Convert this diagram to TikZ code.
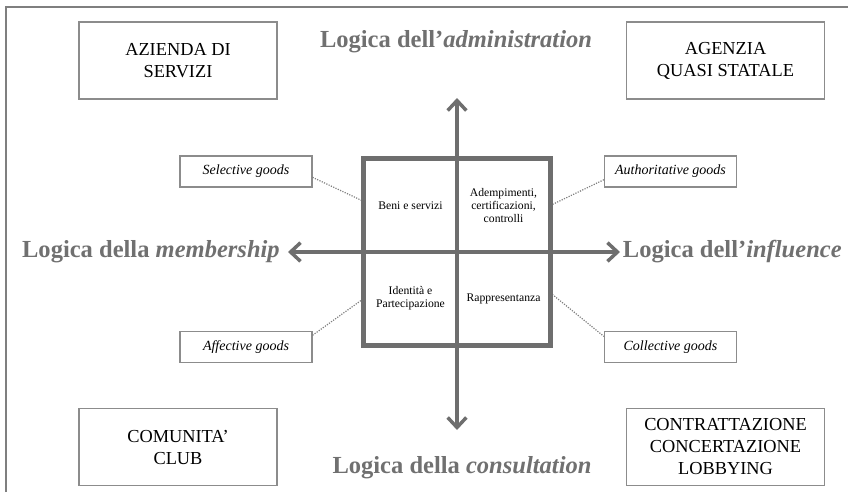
\documentclass[tikz,border=0pt]{standalone}
\usepackage{fontspec}
\setmainfont{Liberation Serif}
\usetikzlibrary{arrows.meta,positioning}
\definecolor{framegray}{HTML}{7F7F7F}
\definecolor{boxgray}{HTML}{8C8C8C}
\definecolor{axisgray}{HTML}{6E6E6E}
\definecolor{labelgray}{HTML}{707070}

\begin{document}
\begin{tikzpicture}[x=0.75pt, y=-0.75pt,
  >={Straight Barb[length=7.5pt,width=14pt]},
  form/.style={draw=boxgray, line width=0.8pt, minimum width=148.5pt, minimum height=57.75pt, align=center, font=\fontsize{13.75}{16.5}\selectfont},
  goods/.style={draw=boxgray, line width=0.8pt, minimum width=99pt, minimum height=23.25pt, font=\fontsize{10.5}{12}\selectfont\itshape},
  cell/.style={minimum width=69.75pt, minimum height=69.75pt, inner sep=0pt, align=center, font=\fontsize{8.75}{10}\selectfont},
  logic/.style={text=labelgray, inner sep=1pt, font=\fontsize{18.4}{22}\selectfont\bfseries},
  axis/.style={draw=axisgray, line width=2.6pt, <->},
  link/.style={draw=gray, line width=0.9pt, densely dotted},
]
  \useasboundingbox (0,0) rectangle (848,492);
  \draw[framegray, line width=1.3pt] (6,492) -- (6,7) -- (848,7);

  \node[form] (azienda) at (178,60.5) {AZIENDA DI\\SERVIZI};
  \node[form] (agenzia) at (725.5,60.5) {AGENZIA\\QUASI STATALE};
  \node[form] (comunita) at (178,447) {COMUNITA’\\CLUB};
  \node[form] (contratt) at (725.5,447) {CONTRATTAZIONE\\CONCERTAZIONE\\LOBBYING};

  \node[goods] (selective) at (246,171.5) {Selective goods};
  \node[goods] (authorit) at (670.5,171.5) {Authoritative goods};
  \node[goods] (affective) at (246,347) {Affective goods};
  \node[goods] (collective) at (670.5,347) {Collective goods};

  \node[cell] (beni) at (410.5,205.5) {Beni e servizi};
  \node[cell] (ademp) at (503.5,205.5) {Adempimenti,\\certificazioni,\\controlli};
  \node[cell] (ident) at (410.5,298.5) {Identità e\\Partecipazione};
  \node[cell] (rappr) at (503.5,298.5) {Rappresentanza};

  \draw[link] (selective.-5) -- (beni.175);
  \draw[link] (ademp.east) -- (authorit.187);
  \draw[link] (affective.10) -- (ident.west);
  \draw[link] (rappr.7) -- (collective.171);

  \coordinate (up) at (457,98);
  \coordinate (down) at (457,430);
  \coordinate (lt) at (288,252);
  \coordinate (rt) at (620,252);
  \draw[axis] (down) -- (up);
  \draw[axis] (lt) -- (rt);
  \draw[axisgray, line width=3.75pt] (beni.north west) rectangle (rappr.south east);

  \node[logic, anchor=base] (admin) at (456,48) {Logica dell’\textit{administration}};
  \node[logic, anchor=base] (consult) at (462,473) {Logica della \textit{consultation}};
  \node[logic, left=5pt of lt] (member) {Logica della \textit{membership}};
  \node[logic, right=1pt of rt] (influ) {Logica dell’\textit{influence}};
\end{tikzpicture}
\end{document}
